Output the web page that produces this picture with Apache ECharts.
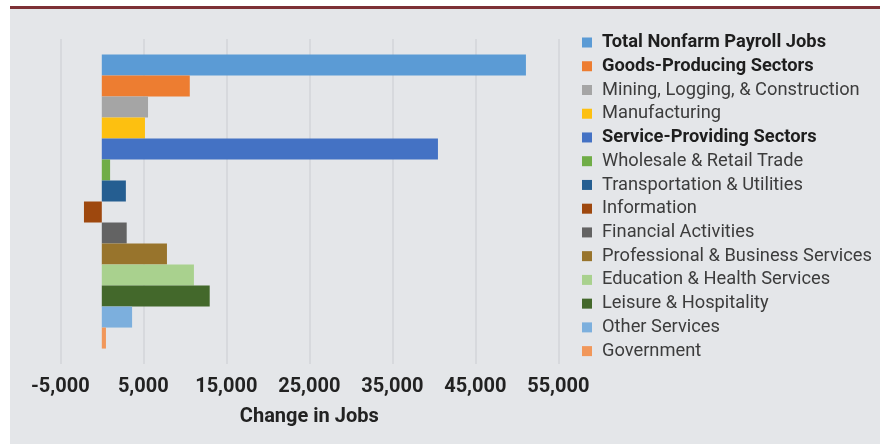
<!DOCTYPE html>
<html>
<head>
<meta charset="utf-8">
<script src="https://cdn.jsdelivr.net/npm/echarts@6/dist/echarts.min.js"></script>
<style>
html,body{margin:0;padding:0;background:#ffffff;}
#chart{width:880px;height:444px;}
</style>
</head>
<body>
<div id="chart"></div>
<script>
// ---- data ----
const sectors = [
  "Total Nonfarm Payroll Jobs",
  "Goods-Producing Sectors",
  "Mining, Logging, & Construction",
  "Manufacturing",
  "Service-Providing Sectors",
  "Wholesale & Retail Trade",
  "Transportation & Utilities",
  "Information",
  "Financial Activities",
  "Professional & Business Services",
  "Education & Health Services",
  "Leisure & Hospitality",
  "Other Services",
  "Government"
];
const jobChange = [51100, 10600, 5570, 5200, 40500, 1000, 2900, -2150, 3000, 7850, 11100, 13000, 3650, 500];
const boldSectors = ["Total Nonfarm Payroll Jobs", "Goods-Producing Sectors", "Service-Providing Sectors"];
const sectorColors = ["#5b9bd5", "#ed7d31", "#a5a5a5", "#fdc010", "#4472c4", "#70ad47", "#255e91",
  "#9e480e", "#636363", "#98742c", "#a9d18e", "#43682b", "#7cafdd", "#f1975a"];
const axisTitle = "Change in Jobs";

// ---- chart ----
const chart = echarts.init(document.getElementById('chart'), null, {renderer: 'canvas'});
const series = sectors.map((name, i) => ({
  name: name,
  type: 'bar',
  data: [jobChange[i]],
  barGap: '0%',
  barCategoryGap: '9.5%',
  itemStyle: {color: sectorColors[i]},
  emphasis: {disabled: true},
  animation: false
}));

chart.setOption({
  animation: false,
  backgroundColor: '#ffffff',
  graphic: [
    {type: 'rect', shape: {x: 10, y: 9, width: 870, height: 435}, style: {fill: '#e4e6e9'}, z: -10},
    {type: 'rect', shape: {x: 10, y: 6, width: 870, height: 3}, style: {fill: '#7d3035'}, z: -9}
  ],
  grid: {left: 60.3, right: 321.7, top: 39, bottom: 80, containLabel: false},
  legend: {
    orient: 'vertical',
    left: 582,
    top: 32.5,
    icon: 'rect',
    itemWidth: 10,
    itemHeight: 10,
    itemGap: 3.74,
    padding: 0,
    selectedMode: false,
    textStyle: {fontFamily: 'Roboto', fontSize: 18.3, color: '#3c3c3c', lineHeight: 20, padding: [0, 0, 0, 5]},
    data: sectors.map(n => boldSectors.includes(n)
      ? {name: n, textStyle: {fontWeight: 'bold', color: '#1e1e1e'}}
      : {name: n})
  },
  xAxis: {
    type: 'value',
    min: -5000,
    max: 55000,
    interval: 10000,
    name: axisTitle,
    nameLocation: 'middle',
    nameGap: 43,
    nameTextStyle: {fontFamily: 'Roboto', fontSize: 20, fontWeight: 'bold', color: '#222222'},
    axisLine: {show: false},
    axisTick: {show: false},
    axisLabel: {
      margin: 13,
      fontFamily: 'Roboto', fontSize: 20, fontWeight: 'bold', color: '#222222',
      formatter: v => v.toLocaleString('en-US')
    },
    splitLine: {show: true, lineStyle: {color: '#d3d5d8', width: 1.5}}
  },
  yAxis: {
    type: 'category',
    data: [''],
    axisLine: {show: false},
    axisTick: {show: false},
    axisLabel: {show: false},
    splitLine: {show: false}
  },
  series: series
});
</script>
</body>
</html>
